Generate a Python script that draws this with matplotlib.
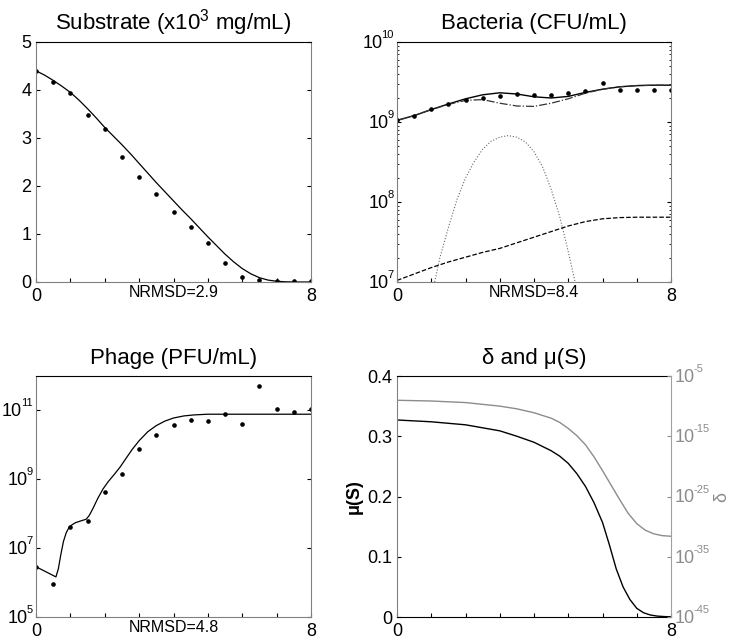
import numpy as np
import matplotlib
matplotlib.use("Agg")
import matplotlib.pyplot as plt
from matplotlib.ticker import FixedLocator, FixedFormatter, LogLocator, NullFormatter

plt.rcParams["font.family"] = ["Liberation Sans", "DejaVu Sans"]
plt.rcParams["font.size"] = 13

# ================================
# Data (time in hours, 0..8)
# ================================
t_obs = np.arange(0, 8.01, 0.5)

# Substrate (x10^3 mg/mL)
sub_obs = [4.40, 4.16, 3.94, 3.47, 3.18, 2.60, 2.18, 1.83, 1.46, 1.15, 0.82, 0.40, 0.10, 0.05, 0.03, 0.03, 0.03]
sub_t = [0, 0.25, 0.5, 0.75, 1.0, 1.25, 1.5, 1.75, 2.0, 2.25, 2.5, 2.75, 3.0, 3.25, 3.5, 3.75, 4.0, 4.25,
         4.5, 4.75, 5.0, 5.25, 5.5, 5.75, 6.0, 6.25, 6.5, 6.75, 7.0, 7.25, 7.5, 8.0]
sub_fit = [4.40, 4.31, 4.20, 4.08, 3.95, 3.79, 3.61, 3.42, 3.22, 3.04, 2.86, 2.67, 2.47, 2.27, 2.07, 1.88, 1.69, 1.50,
           1.32, 1.13, 0.94, 0.76, 0.58, 0.42, 0.28, 0.17, 0.09, 0.04, 0.015, 0.005, 0.0, 0.0]

# Bacteria (log10 CFU/mL)
bac_obs = [9.026, 9.08, 9.164, 9.219, 9.269, 9.302, 9.331, 9.344, 9.34, 9.34, 9.365, 9.39, 9.482, 9.40, 9.40, 9.40, 9.40]
bac_total = [9.02, 9.08, 9.155, 9.225, 9.29, 9.34, 9.365, 9.35, 9.315, 9.30, 9.32, 9.37, 9.41, 9.44, 9.455, 9.46, 9.46]
bac_uninf = [9.02, 9.08, 9.155, 9.22, 9.27, 9.28, 9.235, 9.20, 9.195, 9.235, 9.29, 9.36, 9.41, 9.44, 9.455, 9.46, 9.46]
bac_resist = [7.02, 7.10, 7.18, 7.25, 7.31, 7.37, 7.42, 7.49, 7.56, 7.63, 7.70, 7.755, 7.79, 7.805, 7.81, 7.81, 7.81]
inf_t = [1.1, 1.25, 1.5, 1.75, 2.0, 2.25, 2.5, 2.75, 3.0, 3.25, 3.5, 3.75, 4.0, 4.25, 4.5, 4.75, 5.0, 5.2]
bac_inf = [7.0, 7.3, 7.68, 8.03, 8.30, 8.50, 8.66, 8.76, 8.81, 8.83, 8.81, 8.75, 8.63, 8.44, 8.16, 7.82, 7.38, 7.0]

# Phage (log10 PFU/mL)
phage_obs = [6.456, 5.97, 7.62, 7.79, 8.62, 9.155, 9.874, 10.29, 10.58, 10.71, 10.68, 10.91, 10.60, 11.72, 11.05, 10.94, 11.04]
phage_t = [0, 0.58, 0.65, 0.72, 0.8, 0.88, 0.96, 1.05, 1.15, 1.3, 1.46, 1.55, 1.65, 1.8, 1.95, 2.1, 2.3, 2.45,
           2.6, 2.8, 3.0, 3.25, 3.5, 3.75, 4.0, 4.3, 4.6, 5.0, 8.0]
phage_fit = [6.46, 6.165, 6.4, 6.8, 7.2, 7.45, 7.6, 7.68, 7.74, 7.79, 7.84, 7.95, 8.14, 8.45, 8.72, 8.93, 9.17, 9.36,
             9.58, 9.87, 10.12, 10.38, 10.56, 10.69, 10.78, 10.84, 10.87, 10.89, 10.89]

# mu(S) and delta (log10)
mu_t = [0, 1, 2, 3, 3.5, 4, 4.5, 4.75, 5, 5.25, 5.5, 5.75, 6.0, 6.2, 6.4, 6.6, 6.8, 7.0, 7.2, 7.4, 7.6, 7.8, 8.0]
mu = [0.327, 0.324, 0.319, 0.309, 0.300, 0.290, 0.276, 0.267, 0.255, 0.238, 0.217, 0.190, 0.157, 0.120, 0.080,
      0.050, 0.029, 0.0144, 0.007, 0.0033, 0.0015, 0.0007, 0.0003]
delta_t = [0, 1, 2, 3, 3.5, 4, 4.5, 4.75, 5, 5.25, 5.5, 5.75, 6, 6.25, 6.5, 6.75, 7, 7.25, 7.5, 7.75, 8]
delta_log = [-9.03, -9.15, -9.41, -10.0, -10.45, -11.1, -12.0, -12.7, -13.7, -14.9, -16.4, -18.4, -20.7, -23.1,
             -25.5, -27.8, -29.5, -30.6, -31.2, -31.5, -31.6]

nrmsd = ["2.9", "8.4", "4.8"]

GREY = "#808080"
W, H = 733, 641


def frame(ax, left=GREY, right=GREY, bottom=GREY):
    ax.spines["top"].set_color("black")
    ax.spines["left"].set_color(left)
    ax.spines["right"].set_color(right)
    ax.spines["bottom"].set_color(bottom)
    ax.set_xlim(0, 8)
    ax.xaxis.set_major_locator(FixedLocator(range(9)))
    ax.xaxis.set_major_formatter(FixedFormatter(["0", "", "", "", "", "", "", "", "8"]))
    ax.tick_params(axis="x", direction="in", length=3, top=False, pad=4)
    ax.tick_params(axis="y", direction="in", length=3, right=True)
    ax.tick_params(which="minor", direction="in", length=1.5, right=True)


def log_labels(ax, exps, side="left", color="black"):
    # "10" in the tick font with a small raised exponent, like the original
    ax.yaxis.set_major_locator(FixedLocator([10.0 ** e for e in exps]))
    ax.yaxis.set_major_formatter(NullFormatter())
    ax.yaxis.set_minor_formatter(NullFormatter())
    pad = 2.5
    for e in exps:
        s = str(e)
        exp_w = sum(0.333 if c == "-" else 0.556 for c in s) * 8
        if side == "left":
            base_x, exp_x, ha = -pad - exp_w + 1.0, -pad, "right"
            fx = 0
        else:
            base_x, exp_x, ha = pad, pad + 2 * 0.556 * 13 - 0.5, "left"
            fx = 1
        ax.annotate("10", xy=(fx, 10.0 ** e), xycoords=("axes fraction", "data"),
                    xytext=(base_x, -1), textcoords="offset points",
                    ha=ha, va="center", fontsize=13, color=color, annotation_clip=False)
        ax.annotate(s, xy=(fx, 10.0 ** e), xycoords=("axes fraction", "data"),
                    xytext=(exp_x, 5), textcoords="offset points",
                    ha=ha, va="center", fontsize=8, color=color, annotation_clip=False)


def box(px_left, px_top, px_w=275, px_h=240):
    return [px_left / W, 1 - (px_top + px_h) / H, px_w / W, px_h / H]


fig = plt.figure(figsize=(7.33, 6.41), dpi=100)

# --- Substrate ---
ax1 = fig.add_axes(box(36, 42))
ax1.plot(sub_t, sub_fit, color="black", lw=0.9)
ax1.plot(t_obs, sub_obs, "o", color="black", ms=2.3)
frame(ax1)
ax1.set_ylim(0, 5)
ax1.set_yticks([0, 1, 2, 3, 4, 5])
ax1.set_title(r"Substrate (x10$\mathregular{^3}$ mg/mL)", fontsize=16, pad=9)
ax1.text(0.5, -0.012, "NRMSD=" + nrmsd[0], transform=ax1.transAxes, ha="center", va="top", fontsize=11.5)

# --- Bacteria ---
ax2 = fig.add_axes(box(397, 42, 274))
ax2.set_yscale("log")
ax2.plot(t_obs, 10 ** np.array(bac_total), color="black", lw=1.0)
ax2.plot(t_obs, 10 ** np.array(bac_uninf), color="#333333", lw=0.9, ls="-.")
ax2.plot(inf_t, 10 ** np.array(bac_inf), color="#666666", lw=0.8, ls=":")
ax2.plot(t_obs, 10 ** np.array(bac_resist), color="black", lw=0.9, ls="--")
ax2.plot(t_obs, 10 ** np.array(bac_obs), "o", color="black", ms=2.3)
frame(ax2)
ax2.set_ylim(1e7, 1e10)
log_labels(ax2, [7, 8, 9, 10])
ax2.yaxis.set_minor_locator(LogLocator(base=10, subs=np.arange(2, 10), numticks=20))
ax2.set_title("Bacteria (CFU/mL)", fontsize=16, pad=9)
ax2.text(0.5, -0.012, "NRMSD=" + nrmsd[1], transform=ax2.transAxes, ha="center", va="top", fontsize=11.5)

# --- Phage ---
ax3 = fig.add_axes(box(36, 376, 275, 241))
ax3.set_yscale("log")
ax3.plot(phage_t, 10 ** np.array(phage_fit), color="black", lw=0.9)
ax3.plot(t_obs, 10 ** np.array(phage_obs), "o", color="black", ms=2.3)
frame(ax3)
ax3.set_ylim(1e5, 1e12)
log_labels(ax3, [5, 7, 9, 11])
ax3.yaxis.set_minor_locator(FixedLocator([]))
ax3.set_title("Phage (PFU/mL)", fontsize=16, pad=9)
ax3.text(0.5, -0.012, "NRMSD=" + nrmsd[2], transform=ax3.transAxes, ha="center", va="top", fontsize=11.5)

# --- delta and mu(S) ---
ax4 = fig.add_axes(box(397, 376, 274, 241))
ax4.plot(mu_t, mu, color="black", lw=1.0)
frame(ax4, right="none", bottom="black")
ax4.tick_params(axis="y", right=False)
ax4.set_ylim(0, 0.4)
ax4.yaxis.set_major_locator(FixedLocator([0, 0.1, 0.2, 0.3, 0.4]))
ax4.yaxis.set_major_formatter(FixedFormatter(["0", "0.1", "0.2", "0.3", "0.4"]))
ax4.text(-0.155, 0.5, "\u03bc(S)", transform=ax4.transAxes, rotation=90,
         ha="center", va="center", fontsize=13, fontweight="bold")
ax4.set_title("\u03b4 and \u03bc(S)", fontsize=16, pad=9)

ax5 = ax4.twinx()
ax5.set_yscale("log")
ax5.plot(delta_t, 10 ** np.array(delta_log), color="#8c8c8c", lw=1.0)
ax5.set_ylim(1e-45, 1e-5)
log_labels(ax5, [-45, -35, -25, -15, -5], side="right", color="#8c8c8c")
ax5.yaxis.set_minor_locator(FixedLocator([]))
ax5.tick_params(axis="y", direction="in", length=3, colors="#8c8c8c")
ax5.spines["right"].set_color("#a0a0a0")
for s in ["top", "left", "bottom"]:
    ax5.spines[s].set_visible(False)
ax5.text(1.185, 0.5, "\u03b4", transform=ax5.transAxes, rotation=90,
         ha="center", va="center", fontsize=13, color="#8c8c8c")

fig.savefig("out.png", dpi=100)
